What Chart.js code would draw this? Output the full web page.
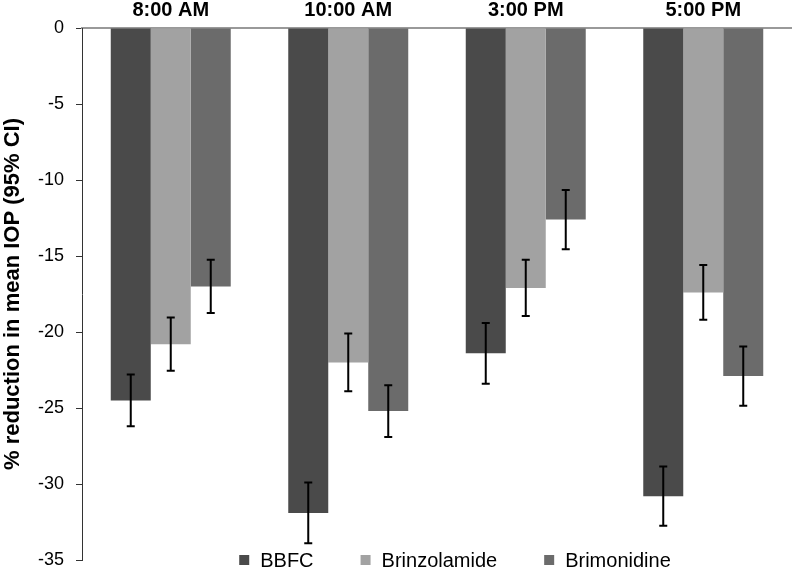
<!DOCTYPE html>
<html>
<head>
<meta charset="utf-8">
<script src="https://cdn.jsdelivr.net/npm/chart.js@4"></script>
<style>
  html, body { margin: 0; padding: 0; background: #fff; }
  #wrap { width: 792px; height: 568px; }
</style>
</head>
<body>
<div id="wrap"><canvas id="chart" width="792" height="568"></canvas></div>
<script>
// data
const times = ['8:00 AM', '10:00 AM', '3:00 PM', '5:00 PM'];
const drugs = ['BBFC', 'Brinzolamide', 'Brimonidine'];
const bbfc = [-24.5, -31.9, -21.4, -30.8];
const brinzolamide = [-20.8, -22.0, -17.1, -17.4];
const brimonidine = [-17.0, -25.2, -12.6, -22.9];
const bbfcCI = [1.7, 2.0, 2.0, 1.95];
const brinzolamideCI = [1.75, 1.9, 1.85, 1.8];
const brimonidineCI = [1.75, 1.7, 1.95, 1.95];
const yTicks = [0, -5, -10, -15, -20, -25, -30, -35];

const FONT = '"Liberation Sans", Arial, sans-serif';
const colours = ['#4a4a4a', '#a2a2a2', '#6b6b6b'];

// draws the 95% CI whiskers
const errorBars = {
    id: 'errorBars',
    afterDatasetsDraw(chart) {
        const ctx = chart.ctx;
        const y = chart.scales.y;
        ctx.save();
        ctx.strokeStyle = '#000';
        ctx.lineWidth = 2;
        chart.data.datasets.forEach((ds, i) => {
            const meta = chart.getDatasetMeta(i);
            meta.data.forEach((bar, j) => {
                const v = ds.data[j], e = ds.ci[j];
                const top = y.getPixelForValue(v + e);
                const bot = y.getPixelForValue(v - e);
                ctx.beginPath();
                ctx.moveTo(bar.x, top); ctx.lineTo(bar.x, bot);
                ctx.moveTo(bar.x - 4, top); ctx.lineTo(bar.x + 4, top);
                ctx.moveTo(bar.x - 4, bot); ctx.lineTo(bar.x + 4, bot);
                ctx.stroke();
            });
        });
        ctx.restore();
    }
};

// legend sits over the bottom of the plot like in the original
const bottomLegend = {
    id: 'bottomLegend',
    afterDraw(chart) {
        const ctx = chart.ctx;
        ctx.save();
        ctx.font = '20px ' + FONT;
        ctx.textBaseline = 'alphabetic';
        const box = 10, gap = 11, spacing = 47;
        const widths = chart.data.datasets.map(ds => ctx.measureText(ds.label).width);
        const total = widths.reduce((a, w) => a + box + gap + w, 0) + spacing * (widths.length - 1);
        let x = 455 - total / 2;
        chart.data.datasets.forEach((ds, i) => {
            ctx.fillStyle = ds.backgroundColor;
            ctx.fillRect(x, 555, box, box);
            ctx.fillStyle = '#000';
            ctx.fillText(ds.label, x + box + gap, 567);
            x += box + gap + widths[i] + spacing;
        });
        ctx.restore();
    }
};

new Chart(document.getElementById('chart'), {
    type: 'bar',
    data: {
        labels: times,
        datasets: [
            { label: drugs[0], data: bbfc, ci: bbfcCI, backgroundColor: colours[0] },
            { label: drugs[1], data: brinzolamide, ci: brinzolamideCI, backgroundColor: colours[1] },
            { label: drugs[2], data: brimonidine, ci: brimonidineCI, backgroundColor: colours[2] }
        ]
    },
    options: {
        responsive: false,
        animation: false,
        layout: { padding: { top: 0, right: 0, bottom: 8, left: 0 } },
        datasets: { bar: { categoryPercentage: 0.676, barPercentage: 1.0 } },
        plugins: { legend: { display: false }, tooltip: { enabled: false } },
        scales: {
            x: {
                position: 'top',
                grid: { display: false, drawTicks: false },
                border: { display: true, color: '#999', width: 2 },
                ticks: { color: '#000', padding: 6, font: { family: FONT, size: 20, weight: 'bold' } },
                afterFit(scale) { scale.height = 28; }
            },
            y: {
                min: -35,
                max: 0,
                afterBuildTicks(scale) { scale.ticks = yTicks.map(v => ({ value: v })); },
                grid: { drawOnChartArea: false, drawTicks: true, tickLength: 6, color: '#333' },
                border: { display: true, color: '#333', width: 1 },
                ticks: { color: '#000', padding: 12, font: { family: FONT, size: 18 } },
                title: {
                    display: true,
                    text: '% reduction in mean IOP (95% CI)',
                    color: '#000',
                    padding: { top: 0, bottom: 0 },
                    font: { family: FONT, size: 22, weight: 'bold' }
                },
                afterFit(scale) {
                    scale.width = 82;
                    scale.paddingTop = 0;
                    scale.paddingBottom = 0;
                }
            }
        }
    },
    plugins: [errorBars, bottomLegend]
});
</script>
</body>
</html>
